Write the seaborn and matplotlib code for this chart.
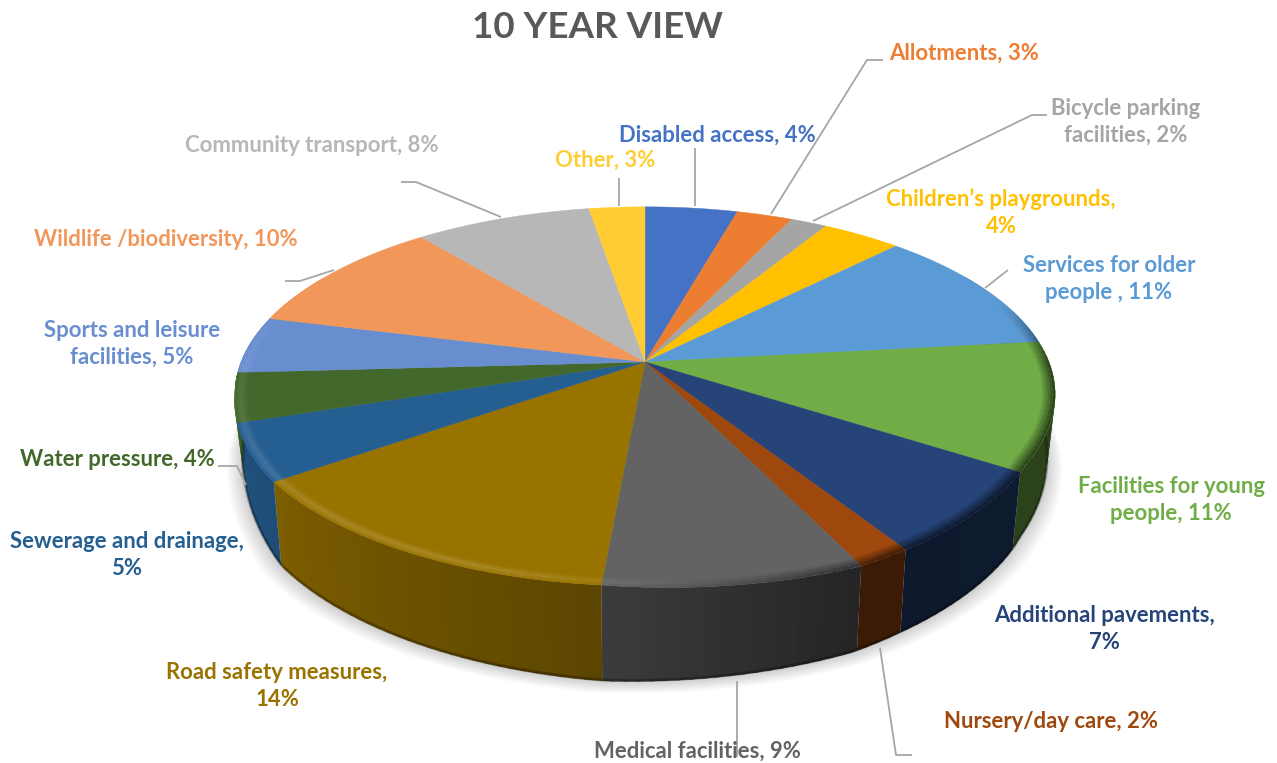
import matplotlib
matplotlib.use('Agg')
import matplotlib.pyplot as plt
import numpy as np
import seaborn as sns

# slice shares (%), clockwise from 12 o'clock
categories = ['Disabled access', 'Allotments', 'Bicycle parking facilities',
              "Children's playgrounds", 'Services for older people',
              'Facilities for young people', 'Additional pavements',
              'Nursery/day care', 'Medical facilities', 'Road safety measures',
              'Sewerage and drainage', 'Water pressure',
              'Sports and leisure facilities', 'Wildlife /biodiversity',
              'Community transport', 'Other']
shares = [4.3, 2.6, 1.7, 3.7, 10.9, 11.0, 6.9, 1.8, 8.5, 13.7, 4.8, 4.2, 4.9, 10.2, 8.2, 2.6]
label_texts = ['Disabled access, 4%', 'Allotments, 3%', 'Bicycle parking\nfacilities, 2%',
               'Children\u2019s playgrounds,\n4%', 'Services for older\npeople , 11%',
               'Facilities for young\npeople, 11%', 'Additional pavements,\n7%',
               'Nursery/day care, 2%', 'Medical facilities, 9%',
               'Road safety measures,\n14%', 'Sewerage and drainage,\n5%',
               'Water pressure, 4%', 'Sports and leisure\nfacilities, 5%',
               'Wildlife /biodiversity, 10%', 'Community transport, 8%', 'Other, 3%']
slice_colors = ['#4472c4', '#ed7d31', '#a5a5a5', '#ffc000', '#5b9bd5', '#70ad47',
                '#264478', '#9e480e', '#636363', '#997300', '#255e91', '#43682b',
                '#698ed0', '#f1975a', '#b7b7b7', '#ffcd33']
label_colors = list(slice_colors)

sns.set_theme(style='white')
plt.rcParams['font.family'] = ['Lato', 'DejaVu Sans']
palette = sns.color_palette(slice_colors)

# layout, in reference pixels
label_xy = [(717, 134), (964, 52), (1126, 121), (1001, 212), (1109, 278), (1171, 499),
            (1104, 628), (1051, 720), (697, 750), (277, 685), (127, 554), (117, 458),
            (132, 343), (166, 239), (312, 145), (605, 159)]
leaders = [[(695, 148), (695, 206)],
           [(883, 60), (867, 60), (771, 214)],
           [(1047, 115), (1032, 115), (813, 221)],
           [(985, 288), (1008, 270)],
           [(737, 681), (737, 757)],
           [(880, 648), (896, 755), (912, 755)],
           [(218, 466), (237, 466), (246, 485)],
           [(285, 281), (300, 281), (334, 270)],
           [(401, 182), (416, 182), (501, 217)],
           [(619, 178), (619, 206)]]
CX, CY = 645, 362      # pie centre on the top face
A, B, K = 404, 182, 0.173   # perspective of the disc
SHRINK = 0.98          # bottom face narrowing
# wall height and rim bulge against angle (degrees clockwise from top)
DROP_DEG = [60, 95, 123, 148, 154, 185, 234, 252, 300]
DROP_PX = [50, 62, 77, 83, 85, 96, 84, 63, 45]
BULGE_DEG = [120, 155, 185, 235, 260]
BULGE = [0, 0.04, 0.015, 0.015, 0]


def top_xy(theta, r=1.0):
    r = r * (1 + np.interp(np.degrees(theta), BULGE_DEG, BULGE))
    u, v = r * np.sin(theta), r * np.cos(theta)
    w = 1 + K * v
    return CX + A * u / w, CY - B * v / w


def bottom_xy(theta):
    x, y = top_xy(theta)
    deg = np.degrees(theta) % 360
    return CX + (x - CX) * SHRINK, y + np.interp(deg, DROP_DEG, DROP_PX)


def shade(color, f):
    return tuple(np.clip(np.array(color) * f, 0, 1))


def lighten(color, f):
    c = np.array(color)
    return tuple(np.clip(c + (1 - c) * f, 0, 1))


fig, ax = plt.subplots(figsize=(12.77, 7.63), dpi=100)
fig.patch.set_facecolor('white')
ax.set_position([0, 0, 1, 1])
ax.set_xlim(0, 1277)
ax.set_ylim(763, 0)
ax.axis('off')

edges = np.radians(np.concatenate([[0], np.cumsum(shares)]) * 3.6)
STEP = np.radians(0.6)

# soft shadow under the front of the disc
ring = np.radians(np.linspace(60, 300, 241))
bx, by = bottom_xy(ring)
for grow in np.linspace(16, 1, 12):
    sx = CX + (bx - CX) * (1 + grow / 420)
    sy = by + grow * 0.75
    ax.fill(sx, sy, color='black', alpha=0.016, lw=0, zorder=1)

# side wall, in overlapping strips so the shading runs round the rim
for i in range(len(shares)):
    t0, t1 = edges[i], edges[i + 1]
    n = max(int(np.degrees(t1 - t0) / 1.5), 1)
    ts = np.linspace(t0, t1, n + 1)
    for a, b in zip(ts[:-1], ts[1:]):
        mid = np.degrees((a + b) / 2)
        if mid < 60 or mid > 300:
            continue
        f = np.interp(mid, [90, 155, 185, 235, 270], [0.39, 0.37, 0.6, 0.82, 0.9])
        seg = np.linspace(a, min(b + STEP, t1), 4)
        tx, ty = top_xy(seg)
        lx, ly = bottom_xy(seg[::-1])
        ax.fill(np.r_[tx, lx], np.r_[ty, ly], color=shade(palette[i], f), lw=0, zorder=2)

# dark line along the lower edge
front = np.radians(np.linspace(88, 272, 200))
lx, ly = bottom_xy(front)
ax.plot(lx, ly - 1, color='black', alpha=0.28, lw=2.2, zorder=3)

# top face
for i in range(len(shares)):
    ts = np.linspace(edges[i], edges[i + 1], 60)
    x, y = top_xy(ts)
    ax.fill(np.r_[CX, x], np.r_[CY, y], color=palette[i], lw=0.3, zorder=4)

# bevel round the rim: light on the left and front, dark on the right
radii = [0.976, 0.982, 0.988, 0.994, 1.0]
hi_ramp = [0.3, 0.7, 1.0, 0.7, 0.3]
lo_ramp = [0.2, 0.4, 0.6, 0.8, 1.0]
for i in range(len(shares)):
    t1 = edges[i + 1]
    n = max(int(np.degrees(t1 - edges[i]) / 1.5), 1)
    ts = np.linspace(edges[i], t1, n + 1)
    for a, b in zip(ts[:-1], ts[1:]):
        mid = np.degrees((a + b) / 2)
        if mid < 70 or mid > 290:
            continue
        hi = np.interp(mid, [165, 200, 235, 270, 290], [0, 0.16, 0.14, 0.07, 0])
        lo = np.interp(mid, [70, 90, 150, 165, 185], [0, 0.6, 0.6, 0.3, 0])
        for j, (r0, r1) in enumerate(zip([0.97] + radii[:-1], radii)):
            seg = np.linspace(a, min(b + STEP, t1), 3)
            ox, oy = top_xy(seg, r1)
            ix, iy = top_xy(seg[::-1], r0)
            c = palette[i]
            if hi > 0:
                c = lighten(c, hi * hi_ramp[j])
            if lo > 0:
                c = shade(c, 1 - lo * lo_ramp[j])
            ax.fill(np.r_[ox, ix], np.r_[oy, iy], color=c, lw=0, zorder=5)

# leader lines
for pts in leaders:
    xs, ys = zip(*pts)
    ax.plot(xs, ys, color='#a6a6a6', lw=1.3, zorder=7, solid_capstyle='butt')

# labels
for txt, (x, y), col in zip(label_texts, label_xy, label_colors):
    ax.text(x, y + 1, txt, color=col, fontsize=15.9, fontweight='bold', ha='center',
            va='center', linespacing=1.34, zorder=8)

ax.text(597, 28, '10 YEAR VIEW', color='#595959', fontsize=26.5, fontweight='bold',
        ha='center', va='center', zorder=8)

fig.savefig('out.png', dpi=100)
